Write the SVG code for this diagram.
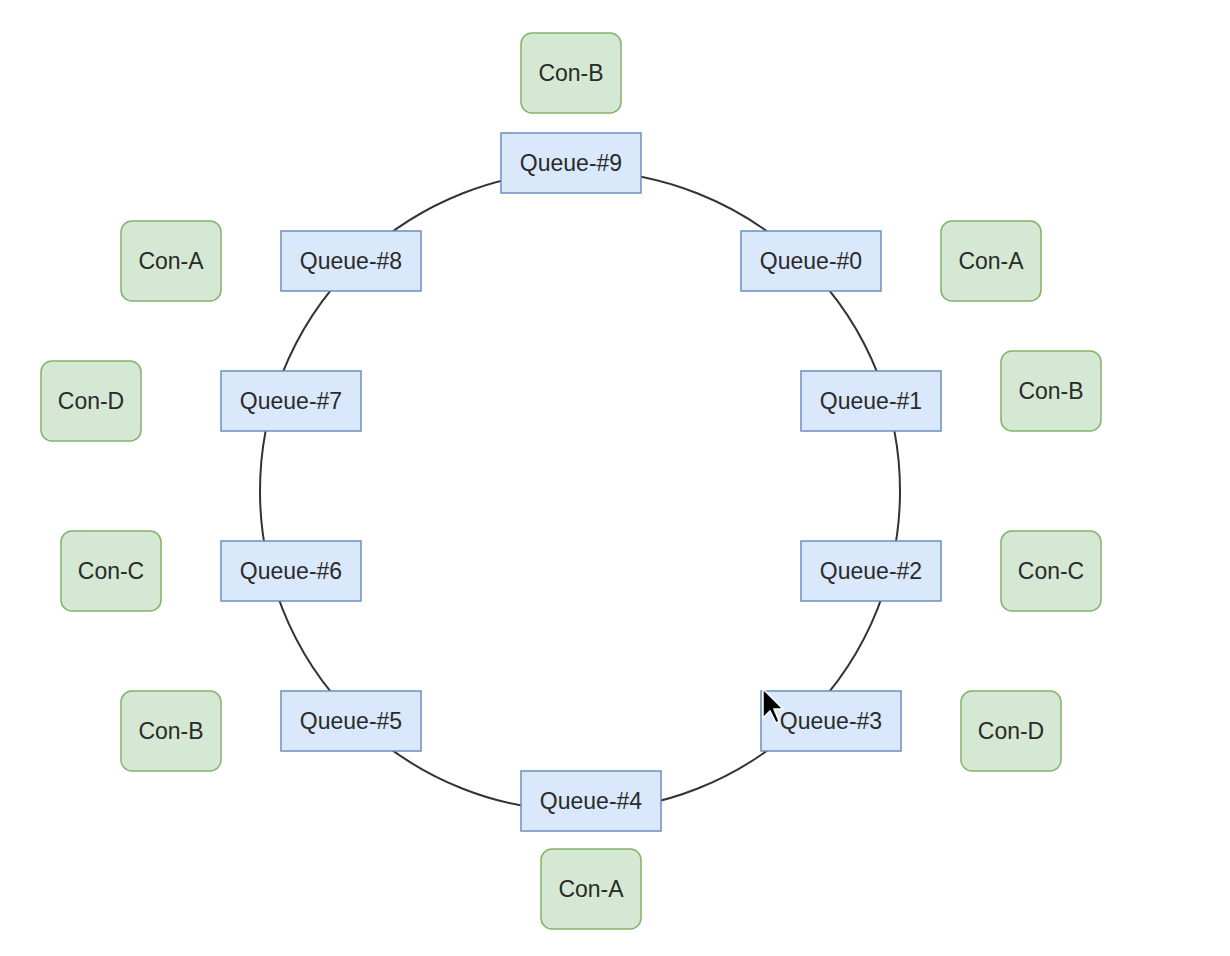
<svg xmlns="http://www.w3.org/2000/svg" width="1230" height="956" viewBox="0 0 1230 956">
<style>
.q rect{fill:#dae8fc;stroke:#6c8ebf;stroke-width:1.5}
.c rect{fill:#d5e8d4;stroke:#82b366;stroke-width:1.5}
text{font-family:"Liberation Sans",Arial,sans-serif;font-size:23px;fill:#2a2a2a;text-anchor:middle;dominant-baseline:central}
</style>
<rect width="1230" height="956" fill="#fff"/>
<g id="connectors">
<circle cx="580" cy="491" r="320" fill="none" stroke="#333" stroke-width="2"/>
</g>
<g id="q9" class="q"><rect x="501" y="133" width="140" height="60"/><text x="571" y="163">Queue-#9</text></g>
<g id="q0" class="q"><rect x="741" y="231" width="140" height="60"/><text x="811" y="261">Queue-#0</text></g>
<g id="q1" class="q"><rect x="801" y="371" width="140" height="60"/><text x="871" y="401">Queue-#1</text></g>
<g id="q2" class="q"><rect x="801" y="541" width="140" height="60"/><text x="871" y="571">Queue-#2</text></g>
<g id="q3" class="q"><rect x="761" y="691" width="140" height="60"/><text x="831" y="721">Queue-#3</text></g>
<g id="q4" class="q"><rect x="521" y="771" width="140" height="60"/><text x="591" y="801">Queue-#4</text></g>
<g id="q5" class="q"><rect x="281" y="691" width="140" height="60"/><text x="351" y="721">Queue-#5</text></g>
<g id="q6" class="q"><rect x="221" y="541" width="140" height="60"/><text x="291" y="571">Queue-#6</text></g>
<g id="q7" class="q"><rect x="221" y="371" width="140" height="60"/><text x="291" y="401">Queue-#7</text></g>
<g id="q8" class="q"><rect x="281" y="231" width="140" height="60"/><text x="351" y="261">Queue-#8</text></g>
<g id="cb-top" class="c"><rect x="521" y="33" width="100" height="80" rx="11"/><text x="571" y="73">Con-B</text></g>
<g id="ca-r" class="c"><rect x="941" y="221" width="100" height="80" rx="11"/><text x="991" y="261">Con-A</text></g>
<g id="cb-r" class="c"><rect x="1001" y="351" width="100" height="80" rx="11"/><text x="1051" y="391">Con-B</text></g>
<g id="cc-r" class="c"><rect x="1001" y="531" width="100" height="80" rx="11"/><text x="1051" y="571">Con-C</text></g>
<g id="cd-r" class="c"><rect x="961" y="691" width="100" height="80" rx="11"/><text x="1011" y="731">Con-D</text></g>
<g id="ca-bot" class="c"><rect x="541" y="849" width="100" height="80" rx="11"/><text x="591" y="889">Con-A</text></g>
<g id="cb-l" class="c"><rect x="121" y="691" width="100" height="80" rx="11"/><text x="171" y="731">Con-B</text></g>
<g id="cc-l" class="c"><rect x="61" y="531" width="100" height="80" rx="11"/><text x="111" y="571">Con-C</text></g>
<g id="cd-l" class="c"><rect x="41" y="361" width="100" height="80" rx="11"/><text x="91" y="401">Con-D</text></g>
<g id="ca-l" class="c"><rect x="121" y="221" width="100" height="80" rx="11"/><text x="171" y="261">Con-A</text></g>
<g id="cursor"><polygon points="763,689 763,718 770,711 776,723 779,721 774,709 783,709" fill="#000" stroke="#fff" stroke-width="1.5"/></g>
</svg>
